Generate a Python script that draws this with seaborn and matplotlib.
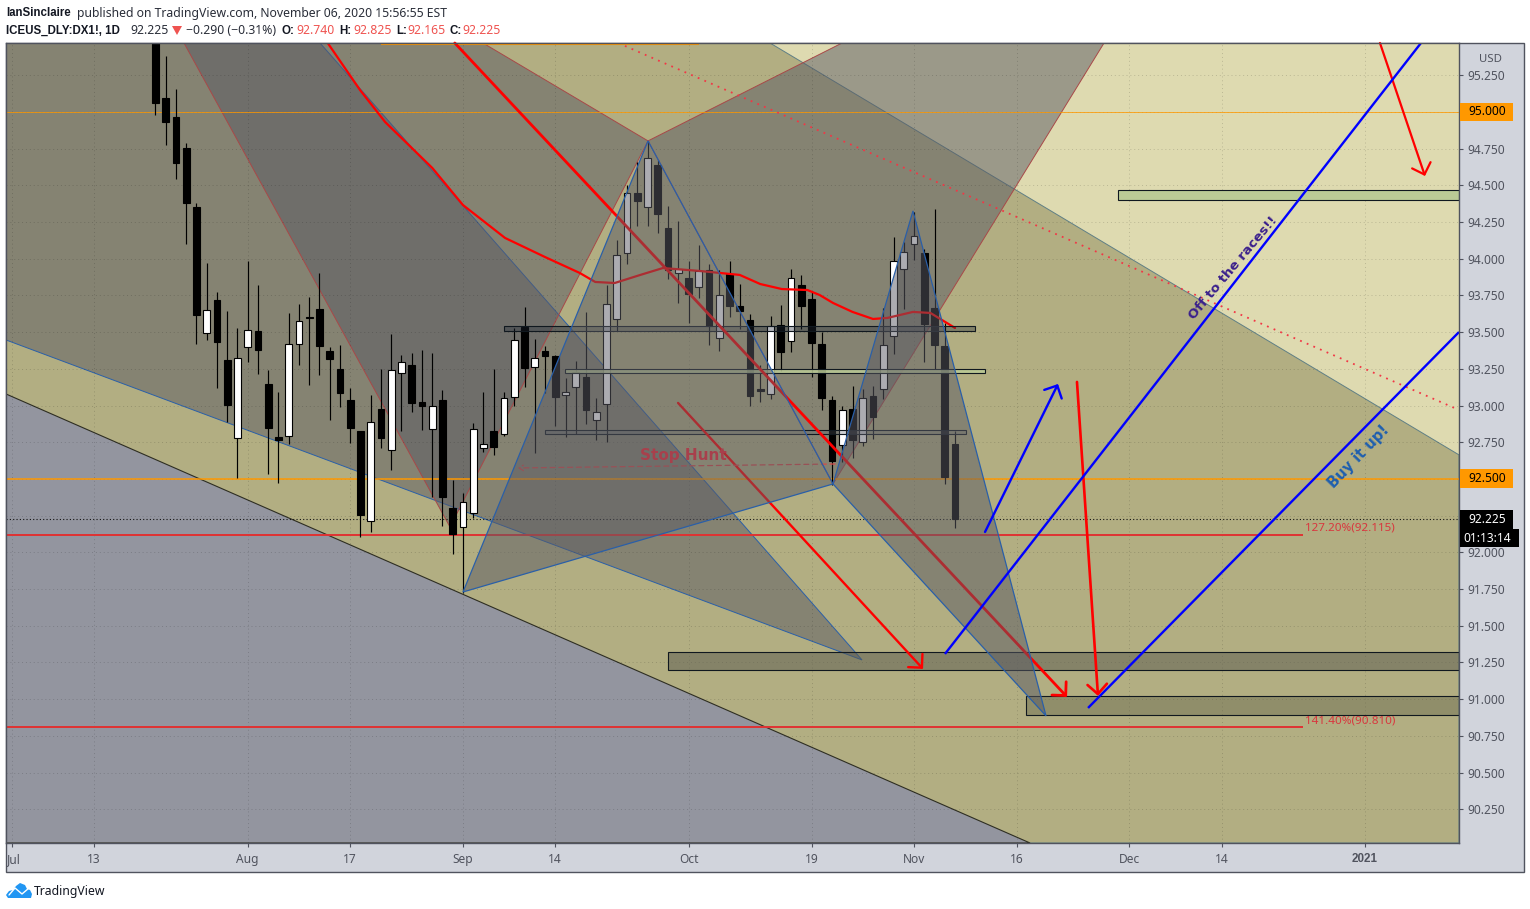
#!/usr/bin/env python3
"""DX1! daily chart with harmonic patterns, TradingView style."""

import numpy as np
import pandas as pd
import seaborn as sns
import matplotlib
matplotlib.use("Agg")
import matplotlib.pyplot as plt
from matplotlib.colors import to_rgba
from matplotlib.patches import Polygon, Rectangle
from matplotlib.transforms import Affine2D, ScaledTranslation, blended_transform_factory

# ---------- Data ----------
first_bar = 14
opens = [95.900, 95.095, 94.966, 94.755, 94.353, 93.495, 93.719, 93.311, 92.779, 93.399,
         93.508, 93.147, 92.786, 92.793, 93.420, 93.604, 93.658, 93.372, 93.249, 93.038,
         92.827, 92.214, 92.977, 92.698, 93.222, 93.277, 93.025, 92.841, 93.038, 92.302,
         92.173, 92.268, 92.711, 92.827, 92.806, 93.059, 93.535, 93.263, 93.372, 93.338,
         93.072, 93.127, 93.195, 92.902, 93.011, 93.590, 94.040, 94.448, 94.353, 94.639,
         94.210, 93.903, 93.869, 93.808, 93.924, 93.461, 93.896, 93.678, 93.583, 93.113,
         93.079, 93.549, 93.440, 93.822, 93.726, 93.420, 93.038, 92.732, 92.977, 92.752,
         93.065, 93.113, 93.474, 93.931, 94.101, 94.040, 93.665, 93.406, 92.740]
highs = [96.000, 95.381, 95.157, 94.789, 94.380, 93.971, 93.774, 93.644, 93.529, 93.985,
         93.822, 93.243, 93.093, 93.631, 93.692, 93.740, 93.903, 93.399, 93.413, 93.120,
         92.827, 93.072, 93.249, 93.488, 93.345, 93.358, 93.379, 93.358, 93.106, 92.493,
         92.405, 92.881, 93.093, 93.249, 93.093, 93.529, 93.672, 93.454, 93.406, 93.345,
         93.188, 93.304, 93.638, 93.052, 93.822, 94.128, 94.503, 94.659, 94.803, 94.673,
         94.360, 94.258, 93.985, 94.094, 93.965, 93.924, 93.985, 93.828, 93.624, 93.277,
         93.610, 93.685, 93.931, 93.890, 93.781, 93.501, 93.065, 92.997, 93.133, 93.113,
         93.133, 93.665, 94.149, 94.115, 94.319, 94.067, 94.339, 93.563, 92.825]
lows = [94.980, 94.775, 94.544, 94.101, 93.420, 93.447, 93.120, 92.888, 92.507, 93.297,
        93.215, 92.534, 92.473, 92.738, 93.277, 93.140, 93.208, 92.902, 92.990, 92.745,
        92.105, 92.139, 92.711, 92.561, 92.827, 92.956, 92.834, 92.377, 92.180, 91.989,
        91.723, 92.234, 92.684, 92.664, 92.793, 92.997, 93.127, 92.677, 93.086, 92.861,
        92.786, 92.807, 92.875, 92.766, 92.752, 93.508, 93.965, 94.223, 94.223, 94.176,
        93.862, 93.699, 93.563, 93.733, 93.413, 93.372, 93.604, 93.522, 92.997, 93.025,
        93.045, 93.236, 93.365, 93.522, 93.195, 92.970, 92.459, 92.616, 92.643, 92.725,
        92.773, 93.045, 93.352, 93.658, 93.992, 93.297, 93.249, 92.466, 92.165]
closes = [95.061, 94.932, 94.653, 94.380, 93.617, 93.651, 93.433, 93.004, 93.324, 93.515,
          93.379, 92.847, 92.766, 93.420, 93.576, 93.597, 93.406, 93.317, 93.086, 92.847,
          92.255, 92.888, 92.779, 93.243, 93.297, 93.018, 92.997, 92.997, 92.377, 92.125,
          92.343, 92.841, 92.738, 92.718, 93.052, 93.447, 93.256, 93.324, 93.338, 93.059,
          93.093, 93.229, 92.970, 92.956, 93.692, 94.026, 94.448, 94.394, 94.687, 94.305,
          93.924, 93.931, 93.760, 93.917, 93.542, 93.753, 93.678, 93.644, 93.065, 93.100,
          93.542, 93.365, 93.869, 93.678, 93.426, 93.052, 92.623, 92.970, 92.766, 93.052,
          92.922, 93.413, 93.985, 94.046, 94.155, 93.556, 93.413, 92.514, 92.225]

ma_bars = [30.8, 33.95, 36.4, 41.0, 44.0, 48.1, 52.0, 55.4, 56.9, 58.8, 61.3, 63.5, 67.1,
           71.0, 73.0, 75.1, 77.6, 78.8, 80.1, 82.0, 84.0, 85.4, 87.9, 89.6, 92.0]
ma_values = [95.470, 95.150, 94.932, 94.619, 94.366, 94.142, 94.012, 93.903, 93.842, 93.835,
             93.890, 93.937, 93.917, 93.890, 93.828, 93.794, 93.787, 93.753, 93.699, 93.638,
             93.590, 93.597, 93.638, 93.631, 93.529]

x_tick_bars = [0, 8, 23, 33, 44, 53, 66, 78, 88, 98, 109, 118, 132]
x_tick_labels = ["Jul", "13", "Aug", "17", "Sep", "14", "Oct", "19", "Nov", "16", "Dec", "14", "2021"]
price_ticks = [90.25, 90.5, 90.75, 91.0, 91.25, 91.5, 91.75, 92.0, 92.25, 92.5, 92.75, 93.0,
               93.25, 93.5, 93.75, 94.0, 94.25, 94.5, 94.75, 95.0, 95.25]

# visible window of the chart
x_min, x_max = -0.585, 141.17
y_min, y_max = 90.02, 95.47

# harmonic patterns: bar index and price of each corner
tan_bars = [73.95, x_max, x_max, x_min, x_min]
tan_prices = [y_max, 92.664, y_min, y_min, y_max]
grey_bars = [x_min, 99.32, x_min]
grey_prices = [93.079, y_min, y_min]
old_blue_bars = [x_min, 82.93, 30.05, x_min]
old_blue_prices = [93.447, 91.267, y_max, y_max]
red_left_bars = [16.78, 42.73, 62.05, 45.95]
red_left_prices = [y_max, 92.173, 94.803, y_max]
red_right_bars = [62.05, 80.98, 106.54, 80.10]
red_right_prices = [94.803, y_max, y_max, 92.466]
blue_xab_bars = [44.0, 62.05, 80.10]
blue_xab_prices = [91.730, 94.803, 92.466]
blue_bcd_bars = [80.10, 87.90, 100.88]
blue_bcd_prices = [92.466, 94.326, 90.886]

# zones: first bar, last bar, low price, high price
zone_dark_1 = (48.0, 93.95, 93.508, 93.542)
zone_green_1 = (53.95, 94.93, 93.222, 93.249)
zone_dark_2 = (52.0, 93.07, 92.807, 92.834)
zone_big = (64.0, x_max, 91.199, 91.322)
zone_low = (98.93, x_max, 90.893, 91.022)
zone_green_2 = (107.9, x_max, 94.401, 94.469)

# trend lines and arrows: bar, price, bar, price
blue_arrow = (94.93, 92.139, 102.05, 93.147)
blue_long_1 = (91.02, 91.308, 137.46, 95.470)
blue_long_2 = (104.98, 90.940, x_max, 93.501)
red_arrow_steep = (103.9, 93.161, 105.95, 91.022)
red_arrow_mid = (64.98, 93.018, 88.88, 91.206)
red_arrow_long = (43.2, 95.470, 102.93, 91.015)
red_arrow_top = (133.46, 95.470, 137.85, 94.564)
red_dotted = (59.8, 95.450, x_max, 92.970)
stop_hunt_line = (80.3, 92.602, 49.37, 92.575)

last_price = 92.225
fib_127 = 92.115
fib_141 = 90.810
fib_end_bar = 125.95

# ---------- Style ----------
sns.set_theme(style="white")
plt.rcParams["font.family"] = ["Noto Sans", "DejaVu Sans"]
plt.rcParams["axes.unicode_minus"] = False

CREAM = "#DEDAB0"
TAN = "#B2AE82"
BLUE_GREY = "#93959F"
OVERLAY = to_rgba("#5A5A64", 0.5)
PANEL = "#D1D4DC"
TEXT = "#50535E"
ORANGE = "#FF9800"
RED = "#FF0000"
FIB_RED = "#E03232"
BLUE = "#0000FF"
EDGE_BLUE = "#2A5FA8"
EDGE_RED = "#A84848"

fig = plt.figure(figsize=(15.3, 9.09), dpi=100, facecolor="white")
px = Affine2D().scale(1, -1).translate(0, 909)  # page furniture in pixels
ax = fig.add_axes([6 / 1530, (909 - 843) / 909, 1453 / 1530, 800 / 909], facecolor=CREAM)
fig.add_artist(Rectangle((6, 43), 1518, 829, transform=px, facecolor=PANEL,
                         edgecolor=TEXT, lw=1, zorder=-1))


def seg(points, color, lw, z, **kw):
    sns.lineplot(x=[points[0], points[2]], y=[points[1], points[3]], color=color, lw=lw,
                 zorder=z, sort=False, estimator=None, legend=False, ax=ax,
                 solid_capstyle="butt", **kw)


def arrow(points, color, lw, z):
    ax.annotate("", xy=(points[2], points[3]), xytext=(points[0], points[1]), zorder=z,
                arrowprops=dict(arrowstyle="->,head_length=0.7,head_width=0.7", color=color,
                                lw=lw, shrinkA=0, shrinkB=0, mutation_scale=10))


def zone(z_, face, alpha):
    ax.add_patch(Rectangle((z_[0], z_[2]), z_[1] - z_[0], z_[3] - z_[2], zorder=5,
                           facecolor=to_rgba(face, alpha), edgecolor="#10181F", lw=0.8))


# ---------- Background fills ----------
ax.fill(tan_bars, tan_prices, facecolor=TAN, edgecolor="#5F7F85", lw=0.7, zorder=0.5)
ax.fill(grey_bars, grey_prices, facecolor=BLUE_GREY, edgecolor="#2E2E22", lw=0.8, zorder=0.6)
ax.fill(old_blue_bars, old_blue_prices, facecolor=OVERLAY, edgecolor=EDGE_BLUE, lw=0.7, zorder=0.8)
ax.fill(red_left_bars, red_left_prices, facecolor=OVERLAY, edgecolor=EDGE_RED, lw=0.7, zorder=0.8)
ax.fill(red_right_bars, red_right_prices, facecolor=OVERLAY, edgecolor=EDGE_RED, lw=0.7, zorder=0.8)

# ---------- Horizontal levels ----------
seg((x_min, 95.0, x_max, 95.0), ORANGE, 0.55, 2.6)
seg((x_min, 92.5, x_max, 92.5), ORANGE, 1.1, 2.6)
seg((36, 95.464, 67, 95.464), ORANGE, 1.5, 2.6)
seg((x_min, fib_127, fib_end_bar, fib_127), FIB_RED, 1.4, 2.6)
seg((x_min, fib_141, fib_end_bar, fib_141), FIB_RED, 1.4, 2.6)
seg((x_min, last_price, x_max, last_price), "#111111", 0.8, 2.6, linestyle=(0, (1, 2)))
seg(red_dotted, "#F23645", 1.3, 2.6, linestyle=(0, (1, 3)))

# ---------- Candles ----------
bars = np.arange(first_bar, first_bar + len(opens))
wicks = pd.DataFrame({"bar": np.tile(bars, 2), "price": highs + lows})
sns.lineplot(data=wicks, x="bar", y="price", units="bar", estimator=None, color="black",
             lw=0.85, zorder=3, legend=False, ax=ax, solid_capstyle="butt")
candles = pd.DataFrame({"bar": bars, "open": opens, "close": closes})
candles["bottom"] = candles[["open", "close"]].min(axis=1)
candles["height"] = (candles["close"] - candles["open"]).abs()
candles["face"] = np.where(candles["close"] >= candles["open"], "white", "black")
ax.bar(candles["bar"], candles["height"], bottom=candles["bottom"], width=0.66,
       color=candles["face"], edgecolor="black", lw=0.8, zorder=4)

# ---------- Moving average, zones, red arrows ----------
sns.lineplot(x=ma_bars, y=ma_values, color="#FF0000", lw=1.6, zorder=5, sort=False,
             estimator=None, legend=False, ax=ax)
zone(zone_dark_1, "#202A38", 0.35)
zone(zone_green_1, "#BBCB96", 0.85)
zone(zone_dark_2, "#5A6470", 0.3)
zone(zone_big, "#5A5A50", 0.5)
zone(zone_low, "#5F5F48", 0.4)
zone(zone_green_2, "#BBCB96", 1.0)

arrow(red_arrow_long, RED, 2.0, 5.2)
arrow(red_arrow_mid, RED, 1.7, 5.2)
arrow(red_arrow_steep, RED, 1.9, 5.2)
arrow(red_arrow_top, RED, 1.6, 5.2)
ax.annotate("", xy=stop_hunt_line[2:], xytext=stop_hunt_line[:2], zorder=5.2,
            arrowprops=dict(arrowstyle="->,head_length=0.3,head_width=0.2", color="#D84848",
                            lw=0.9, ls=(0, (4, 3)), shrinkA=0, shrinkB=0, mutation_scale=10))

# ---------- Newer pattern sits over the candles ----------
ax.fill(blue_xab_bars, blue_xab_prices, facecolor=OVERLAY, edgecolor=EDGE_BLUE, lw=0.9, zorder=6)
ax.fill(blue_bcd_bars, blue_bcd_prices, facecolor=OVERLAY, edgecolor=EDGE_BLUE, lw=0.9, zorder=6)

seg(blue_long_1, BLUE, 1.7, 7)
seg(blue_long_2, BLUE, 1.7, 7)
arrow(blue_arrow, BLUE, 1.7, 7)

ax.text(65.46, 92.663, "Stop Hunt", color="#A8404C", fontsize=11, fontweight="bold",
        family="DejaVu Sans", ha="center", va="center", zorder=7)
ax.text(119.1, 93.935, "Off to the races!!", color="#3A1F8C", fontsize=9.6, fontweight="bold",
        family="DejaVu Sans", rotation=50, rotation_mode="anchor", ha="center", va="center", zorder=7)
ax.text(131.4, 92.650, "Buy it up!", color="#1E5FAF", fontsize=10.5, fontweight="bold",
        family="DejaVu Sans", rotation=46, rotation_mode="anchor", ha="center", va="center", zorder=7)
ax.text(fib_end_bar + 0.2, 92.165, "127.20%(92.115)", color="#D9363E", fontsize=8.4,
        ha="left", va="center", zorder=7)
ax.text(fib_end_bar + 0.2, 90.850, "141.40%(90.810)", color="#D9363E", fontsize=8.4,
        ha="left", va="center", zorder=7)

# ---------- Axes ----------
ax.set_xlim(x_min, x_max)
ax.set_ylim(y_min, y_max)
ax.set_xlabel("")
ax.set_ylabel("")
ax.yaxis.tick_right()
ax.set_yticks(price_ticks)
ax.set_yticklabels([f"{p:.3f}" for p in price_ticks])
ax.set_xticks(x_tick_bars)
ax.set_xticklabels(x_tick_labels)
ax.tick_params(axis="both", colors=TEXT, labelcolor=TEXT, labelsize=8.6, length=3.2, width=0.8,
               bottom=True, right=True, left=False, top=False)
ax.tick_params(axis="y", pad=2.5)
ax.tick_params(axis="x", pad=4)
last_label = ax.get_xticklabels()[-1]
last_label.set_fontfamily("Liberation Sans")
last_label.set_fontweight("bold")
last_label.set_fontsize(8.4)
first_label = ax.get_xticklabels()[0]
first_label.set_transform(first_label.get_transform() + ScaledTranslation(2 / 100, 0, fig.dpi_scale_trans))
ax.set_axisbelow("line")
ax.grid(True, color="black", alpha=0.16, lw=0.7, linestyle=(0, (1, 3)))
ax.patch.set_zorder(0)
for spine in ax.spines.values():
    spine.set_color(TEXT)
    spine.set_linewidth(1)
    spine.set_zorder(8)

# ---------- Price tags ----------
tag_tf = blended_transform_factory(ax.transAxes, ax.transData)
tag_left = 1.0005
text_left = 1 + 9 / 1453


def price_tag(price, label, face, color, width_px=53, height=0.129):
    ax.add_patch(Rectangle((tag_left, price - height / 2), width_px / 1453, height, transform=tag_tf,
                           facecolor=face, edgecolor="none", clip_on=False, zorder=20))
    ax.text(text_left, price, label, transform=tag_tf, color=color, fontsize=8.6,
            ha="left", va="center", clip_on=False, zorder=21)


price_tag(95.0, "95.000", ORANGE, "black")
price_tag(92.5, "92.500", ORANGE, "black")
price_tag(92.225, "92.225", "black", "white")
price_tag(92.097, "01:13:14", "black", "white", width_px=59, height=0.122)
ax.texts[-1].set_x(1 + 4 / 1453)

# ---------- Header and footer ----------
fig.text(1490, 59, "USD", transform=px, color=TEXT, fontsize=8.2, ha="center", va="center")
BOLD = {"family": "Liberation Sans", "fontweight": "bold", "fontsize": 8.3, "color": "#131722"}
PLAIN = {"fontsize": 8.8, "color": "#2A2E39"}
PRICE = {"fontsize": 8.8, "color": "#EF5350"}
header = [
    (6, 13.5, "IanSinclaire", BOLD),
    (77, 13.5, "published on TradingView.com, November 06, 2020 15:56:55 EST", PLAIN),
    (6, 30.5, "ICEUS_DLY:DX1!, 1D", BOLD),
    (130, 30.5, "92.225", PLAIN),
    (186, 30.5, "\u22120.290 (\u22120.31%)", PLAIN),
    (282, 30.5, "O:", BOLD),
    (296, 30.5, "92.740", PRICE),
    (339, 30.5, "H:", BOLD),
    (353, 30.5, "92.825", PRICE),
    (396, 30.5, "L:", BOLD),
    (407, 30.5, "92.165", PRICE),
    (450, 30.5, "C:", BOLD),
    (462, 30.5, "92.225", PRICE),
]
for hx, hy, txt, style in header:
    fig.text(hx, hy, txt, transform=px, ha="left", va="center", **style)
fig.add_artist(Polygon([(172, 26), (182, 26), (177, 35)], transform=px, facecolor="#EF5350",
                       edgecolor="none"))

fig.add_artist(Polygon([(6, 895), (9, 891), (13, 890), (16, 886), (20, 883), (25, 885), (27, 889),
                        (30, 890), (32, 894), (31, 898), (8, 898)], transform=px,
                       facecolor="#2196F3", edgecolor="none"))
fig.add_artist(plt.Line2D([9, 15, 22, 29], [895, 888, 894, 888], transform=px, color="white", lw=1.0))
fig.text(34, 891, "TradingView", transform=px, color="#131722", fontsize=8.8, ha="left", va="center")

fig.savefig("out.png", dpi=100, facecolor="white")
